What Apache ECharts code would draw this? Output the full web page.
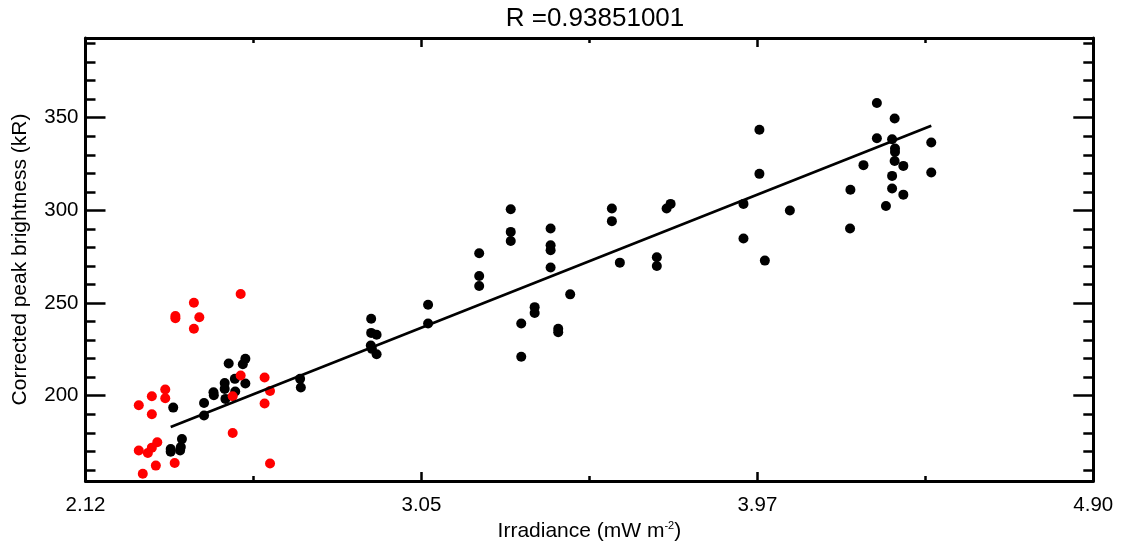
<!DOCTYPE html>
<html>
<head>
<meta charset="utf-8">
<script src="https://cdn.jsdelivr.net/npm/echarts@6/dist/echarts.min.js"></script>
<style>html,body{margin:0;padding:0;background:#fff;}#chart{width:1122px;height:542px;}</style>
</head>
<body>
<div id="chart"></div>
<script>
// ---- data ----
const blackX = [2.362,2.355,2.355,2.383,2.386,2.381,2.447,2.447,2.473,2.474,2.504,2.504,2.506,2.515,2.532,2.533,2.554,2.561,2.561,2.712,2.714,
  2.908,2.908,2.923,2.907,2.910,2.923,3.065,3.065,3.206,3.206,3.206,3.293,3.293,3.293,3.403,3.403,3.403,3.403,3.457,3.359,3.359,3.322,3.424,3.424,3.322,
  3.572,3.572,3.594,3.696,3.696,3.723,3.734,3.979,3.979,3.935,3.935,3.994,4.063,4.230,4.229,4.266,4.303,4.303,4.352,4.345,4.353,4.353,4.352,4.376,4.345,4.345,4.376,4.328,4.453,4.453];
const blackY = [193.6,171.2,169.8,172.3,176.6,170.5,196.1,189.3,201.9,200.3,206.9,203.7,198.3,217.4,209.1,202.3,217.0,219.9,206.6,209.1,204.4,
  241.5,233.9,232.9,227.1,225.3,222.4,249.1,239.0,276.9,264.6,259.2,300.6,288.4,283.5,290.2,281.2,278.5,269.2,254.7,247.8,244.6,239.0,236.1,234.3,221.0,
  301.0,294.2,271.8,274.7,270.0,301.0,303.5,343.5,319.7,303.5,284.8,272.9,299.9,311.1,290.2,324.4,357.9,338.9,349.6,338.4,333.4,331.5,326.6,324.0,318.6,311.8,308.5,302.4,336.6,320.4];
const redX = [2.267,2.303,2.303,2.340,2.340,2.267,2.292,2.303,2.318,2.278,2.314,2.368,2.368,2.366,2.419,2.434,2.419,2.548,2.548,2.526,2.526,2.614,2.629,2.614,2.629];
const redY = [194.9,199.7,190.0,203.4,198.6,170.5,169.1,172.0,174.9,157.9,162.3,243.0,241.8,163.7,250.2,242.3,236.1,254.9,210.9,199.7,179.9,209.8,202.6,195.8,163.4];
const fitX = [2.355, 4.453];
const fitY = [183.1, 345.7];
const titleText = 'R =0.93851001';
const xMajorTicks = [2.12, 3.0467, 3.9733, 4.90];
const xMinorTicks = [2.5833, 3.51, 4.4367];
const yMajorTicks = [200, 250, 300, 350];
const yMinorTicks = [160,170,180,190,210,220,230,240,260,270,280,290,310,320,330,340,360,370,380,390];
const xRange = [2.12, 4.90];
const yRange = [154, 393];

const FONT = 'Liberation Sans';
const chart = echarts.init(document.getElementById('chart'), null, {renderer: 'canvas'});

function xAx(pos, ticks, len, labels, line) {
  return {
    type: 'value', position: pos, min: xRange[0], max: xRange[1],
    axisLine: {show: line, onZero: false, lineStyle: {color: '#000', width: 3}},
    axisTick: {show: true, inside: true, length: len, customValues: ticks, lineStyle: {color: '#000', width: 2.5}},
    axisLabel: labels ? {show: true, customValues: ticks, margin: 14, color: '#000', fontSize: 20.5, fontFamily: FONT,
      formatter: v => v.toFixed(2)} : {show: false},
    splitLine: {show: false}
  };
}
function yAx(pos, ticks, len, labels, line) {
  return {
    type: 'value', position: pos, min: yRange[0], max: yRange[1],
    axisLine: {show: line, onZero: false, lineStyle: {color: '#000', width: 3}},
    axisTick: {show: true, inside: true, length: len, customValues: ticks, lineStyle: {color: '#000', width: 2.5}},
    axisLabel: labels ? {show: true, customValues: ticks, margin: 7, color: '#000', fontSize: 20.5, fontFamily: FONT,
      formatter: v => String(Math.round(v))} : {show: false},
    splitLine: {show: false}
  };
}

const xAxes = [
  xAx('bottom', xMajorTicks, 9, true, true),
  xAx('bottom', xMinorTicks, 5, false, false),
  xAx('top', xMajorTicks, 9, false, true),
  xAx('top', xMinorTicks, 5, false, false)
];
xAxes[0].name = 'Irradiance (mW m{sup|-2})';
xAxes[0].nameLocation = 'middle';
xAxes[0].nameGap = 28;
xAxes[0].nameTextStyle = {color: '#000', fontSize: 21, fontFamily: FONT,
  rich: {sup: {fontSize: 11, verticalAlign: 'top', color: '#000', fontFamily: FONT}}};

const yAxes = [
  yAx('left', yMajorTicks, 20, true, true),
  yAx('left', yMinorTicks, 10, false, false),
  yAx('right', yMajorTicks, 20, false, true),
  yAx('right', yMinorTicks, 10, false, false)
];
yAxes[0].name = 'Corrected peak brightness (kR)';
yAxes[0].nameLocation = 'middle';
yAxes[0].nameGap = 55;
yAxes[0].nameTextStyle = {color: '#000', fontSize: 21, fontFamily: FONT};

const option = {
  animation: false,
  backgroundColor: '#fff',
  title: {text: titleText, left: 590, top: 1, textAlign: 'center',
    textStyle: {color: '#000', fontSize: 26, fontWeight: 'normal', fontFamily: FONT}},
  grid: {left: 85.5, right: 28.7, top: 38, bottom: 61, containLabel: false, outerBoundsMode: 'none'},
  xAxis: xAxes,
  yAxis: yAxes,
  series: [
    {type: 'scatter', xAxisIndex: 0, yAxisIndex: 0, symbol: 'circle', symbolSize: 10,
      itemStyle: {color: '#000', opacity: 1}, data: blackX.map((x, i) => [x, blackY[i]])},
    {type: 'scatter', xAxisIndex: 0, yAxisIndex: 0, symbol: 'circle', symbolSize: 10,
      itemStyle: {color: '#ff0000', opacity: 1}, data: redX.map((x, i) => [x, redY[i]])},
    {type: 'line', xAxisIndex: 0, yAxisIndex: 0, symbol: 'none', silent: true,
      lineStyle: {color: '#000', width: 2.7}, data: fitX.map((x, i) => [x, fitY[i]])}
  ]
};
chart.setOption(option);
</script>
</body>
</html>
